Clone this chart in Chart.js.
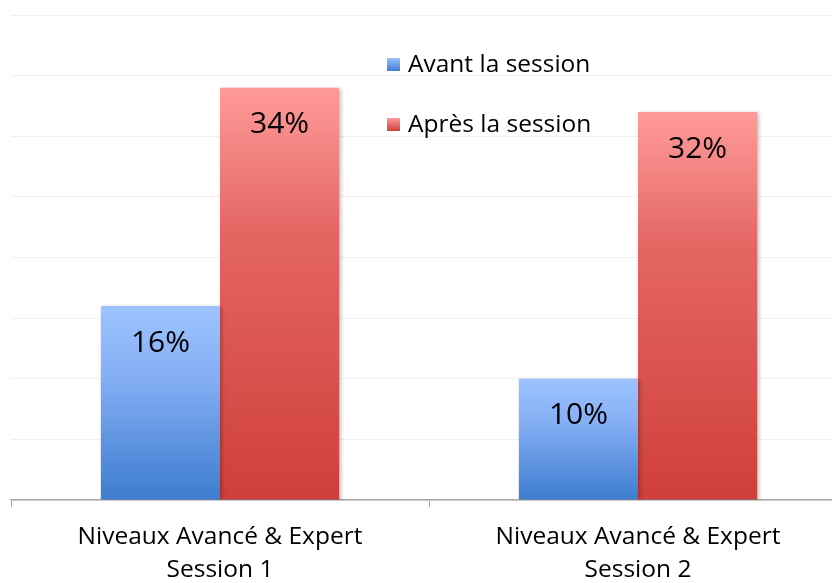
<!DOCTYPE html>
<html>
<head>
<meta charset="utf-8">
<script src="https://cdn.jsdelivr.net/npm/chart.js@4"></script>
<style>
  html, body { margin: 0; padding: 0; background: #fff; overflow: hidden; }
  #wrap { width: 847px; height: 583px; }
</style>
</head>
<body>
<div id="wrap"><canvas id="barChart"></canvas></div>
<script>
const categories = [
    ['Niveaux Avancé & Expert', 'Session 1'],
    ['Niveaux Avancé & Expert', 'Session 2']
];
const seriesNames = ['Avant la session', 'Après la session'];
const avantValues = [16, 10];
const apresValues = [34, 32];

const FONT = '"Open Sans", "Liberation Sans", sans-serif';

const blueStops = ['#9dc3ff', '#86b0f5', '#3d7ccf'];
const redStops = ['#ff9b9a', '#e46663', '#cf3f3b'];

function barGradient(stops) {
    return function(context) {
        const chart = context.chart;
        if (!chart.chartArea || context.raw === undefined) return stops[0];
        const y = chart.scales.y;
        const top = y.getPixelForValue(context.raw);
        const bottom = y.getPixelForValue(0);
        const g = chart.ctx.createLinearGradient(0, top, 0, bottom);
        g.addColorStop(0, stops[0]);
        g.addColorStop(0.35, stops[1]);
        g.addColorStop(1, stops[2]);
        return g;
    };
}

// value labels inside top of bars
const valueLabels = {
    id: 'valueLabels',
    afterDatasetsDraw(chart) {
        const ctx = chart.ctx;
        ctx.save();
        ctx.font = '30px ' + FONT;
        ctx.fillStyle = '#000';
        ctx.textAlign = 'center';
        ctx.textBaseline = 'middle';
        chart.data.datasets.forEach((ds, i) => {
            chart.getDatasetMeta(i).data.forEach((bar, j) => {
                ctx.fillText(ds.data[j] + '%', bar.x, bar.y + 37);
            });
        });
        ctx.restore();
    }
};

// bar shadow
const barShadow = {
    id: 'barShadow',
    beforeDatasetsDraw(chart) {
        const ctx = chart.ctx;
        ctx.save();
        ctx.shadowColor = 'rgba(0,0,0,0.25)';
        ctx.shadowBlur = 4;
        ctx.shadowOffsetX = 2;
        ctx.shadowOffsetY = 1;
    },
    afterDatasetsDraw(chart) {
        chart.ctx.restore();
    }
};

// legend drawn over the plot
const overlayLegend = {
    id: 'overlayLegend',
    afterDraw(chart) {
        const ctx = chart.ctx;
        const items = [
            { text: seriesNames[0], stops: blueStops, y: 64 },
            { text: seriesNames[1], stops: redStops, y: 124 }
        ];
        ctx.save();
        ctx.font = '24.5px ' + FONT;
        ctx.textBaseline = 'middle';
        items.forEach(it => {
            const g = ctx.createLinearGradient(0, it.y - 6, 0, it.y + 7);
            g.addColorStop(0, it.stops[0]);
            g.addColorStop(1, it.stops[2]);
            ctx.fillStyle = g;
            ctx.fillRect(387, it.y - 6, 13, 13);
            ctx.fillStyle = '#000';
            ctx.fillText(it.text, 408, it.y + 1);
        });
        ctx.restore();
    }
};

new Chart(document.getElementById('barChart').getContext('2d'), {
    type: 'bar',
    data: {
        labels: categories,
        datasets: [
            {
                label: seriesNames[0],
                data: avantValues,
                backgroundColor: barGradient(blueStops)
            },
            {
                label: seriesNames[1],
                data: apresValues,
                backgroundColor: barGradient(redStops)
            }
        ]
    },
    options: {
        responsive: true,
        maintainAspectRatio: false,
        animation: false,
        layout: { padding: { left: 11, top: 15, right: 0, bottom: 0 } },
        categoryPercentage: 0.57,
        barPercentage: 1.0,
        plugins: {
            legend: { display: false },
            tooltip: { enabled: false }
        },
        scales: {
            x: {
                grid: {
                    offset: true,
                    drawOnChartArea: false,
                    drawTicks: true,
                    tickLength: 7,
                    color: '#a6a6a6'
                },
                border: { color: '#a6a6a6', width: 1.5 },
                ticks: {
                    color: '#000',
                    padding: 13,
                    maxRotation: 0,
                    autoSkip: false,
                    font: { family: FONT, size: 24.5, lineHeight: 1.35 }
                },
                afterFit: scale => { scale.height = 83; }
            },
            y: {
                min: 0,
                max: 40,
                ticks: { stepSize: 5, display: false },
                grid: { color: '#efefef', drawTicks: false },
                border: { display: false },
                afterFit: scale => { scale.width = 0; }
            }
        }
    },
    plugins: [barShadow, valueLabels, overlayLegend]
});
</script>
</body>
</html>
